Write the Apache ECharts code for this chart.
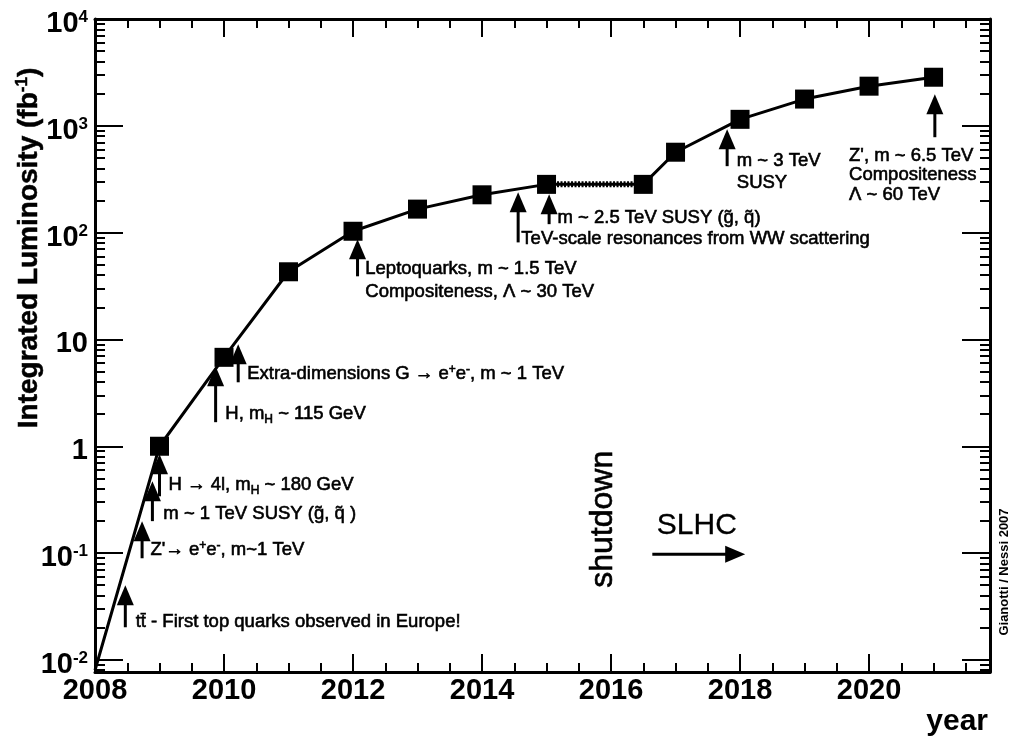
<!DOCTYPE html>
<html><head><meta charset="utf-8">
<script src="https://cdn.jsdelivr.net/npm/echarts@6/dist/echarts.min.js"></script>
<style>html,body{margin:0;padding:0;background:#fff}#c{width:1012px;height:736px}</style>
</head><body><div id="c"></div>
<script>
// ---- data ----
const years = [2008, 2009, 2010, 2011, 2012, 2013, 2014, 2015, 2016.5, 2017, 2018, 2019, 2020, 2021];
const lumi  = [0.008, 1, 6.8, 43, 103, 166, 226, 283, 283, 566, 1150, 1780, 2350, 2850];
const shutdownIdx = [7, 8]; // the flat segment during the shutdown
const xTickLabels = [2008, 2010, 2012, 2014, 2016, 2018, 2020];
const yTickLabels = [0.01, 0.1, 1, 10, 100, 1000, 10000];

// arrows: tail -> tip in data coordinates
const arrowFrom = [[2008.47,0.0202],[2008.73,0.0894],[2008.89,0.199],[2009.0,0.34],[2009.87,1.68],[2010.22,3.97],[2012.07,39],[2014.56,81],[2015.04,120],[2017.80,419],[2021.02,782],[2016.64,0.0975]];
const arrowTo   = [[2008.47,0.050],[2008.73,0.199],[2008.89,0.47],[2009.0,0.84],[2009.87,5.61],[2010.22,9.0],[2012.07,86.7],[2014.56,239],[2015.04,229],[2017.80,929],[2021.02,1977],[2018.08,0.0975]];

// annotation texts (anchor in data coordinates)
const annotations = [
  {x:2008.63, y:0.0225, text:'t{n|t\u0304} - First top quarks observed in Europe!'},
  {x:2008.86, y:0.106, text:"Z'\u2192 e{sup|+}e{sup|-}, m~1 TeV"},
  {x:2009.06, y:0.231, text:'m ~ 1 TeV SUSY (g\u0303, q\u0303 )'},
  {x:2009.14, y:0.431, text:'H \u2192 4l, m{sub|H} ~ 180 GeV'},
  {x:2010.02, y:1.99, text:'H, m{sub|H} ~ 115 GeV'},
  {x:2010.36, y:4.72, text:'Extra-dimensions G \u2192 e{sup|+}e{sup|-}, m ~ 1 TeV'},
  {x:2012.19, y:45.4, text:'Leptoquarks, m ~ 1.5 TeV'},
  {x:2012.19, y:27.7, text:'Compositeness, \u039b ~ 30 TeV'},
  {x:2014.61, y:86.7, text:'TeV-scale resonances from WW scattering'},
  {x:2015.17, y:136, text:'m ~ 2.5 TeV SUSY (g\u0303, q\u0303)'},
  {x:2017.95, y:466, text:'m ~ 3 TeV'},
  {x:2017.95, y:290, text:'SUSY'},
  {x:2019.69, y:519, text:"Z', m ~ 6.5 TeV"},
  {x:2019.69, y:345, text:'Compositeness'},
  {x:2019.69, y:224, text:'\u039b ~ 60 TeV'},
  {x:2015.88, y:0.207, text:'shutdown', size:32, rotate:true, align:'center'},
  {x:2017.33, y:0.182, text:'SLHC', size:30, align:'center', stroke:0.3}
];

// ---- layout ----
const FONT = "'Liberation Sans', Arial, Helvetica, sans-serif";
const X_MIN = 2008, X_MAX = 2021.875, Y_MIN = 0.0077, Y_MAX = 10000;
const G = {left:95, right:22, top:19, bottom:64};

const xMinor = [];
for (let v = 2008.5; v < X_MAX; v += 0.5) { if (v % 2 !== 0) xMinor.push(v); }
const yMinor = [];
for (let e = -3; e <= 3; e++) for (let k = 2; k <= 9; k++) {
  const v = parseFloat((k * Math.pow(10, e)).toPrecision(6));
  if (v > Y_MIN && v < Y_MAX) yMinor.push(v);
}

const lineSt = {color:'#000', width:3};
function xAx(grid, pos, major) {
  return {gridIndex:grid, type:'value', position:pos, min:X_MIN, max:X_MAX,
    axisLine:{show:major, onZero:false, lineStyle:lineSt},
    axisTick:{show:true, inside:true, length: major?18:9, customValues: major?xTickLabels:xMinor, lineStyle:{color:'#000', width:2}},
    axisLabel: (major && pos==='bottom') ? {show:true, customValues:xTickLabels, formatter:(v)=>String(Math.round(v)), color:'#000', fontSize:29, fontWeight:'bold', fontFamily:FONT, margin:4} : {show:false},
    splitLine:{show:false}};
}
function yLabelFmt(v) {
  const e = Math.round(Math.log10(v));
  if (e === 0) return '{b|1}';
  if (e === 1) return '{b|10}';
  return '{b|10}{s|' + e + '}';
}
function yAx(grid, pos, major) {
  return {gridIndex:grid, type:'log', logBase:10, position:pos, min:Y_MIN, max:Y_MAX,
    axisLine:{show:major, onZero:false, lineStyle:lineSt},
    axisTick:{show:true, inside:true, length: major?28:10, customValues: major?yTickLabels:yMinor, lineStyle:{color:'#000', width:2}},
    axisLabel: (major && pos==='left') ? {show:true, customValues:yTickLabels, formatter:yLabelFmt, margin:7, padding:[10,0,0,0],
      rich:{b:{fontSize:29, fontWeight:'bold', fontFamily:FONT, color:'#000', lineHeight:30},
            s:{fontSize:17, fontWeight:'bold', fontFamily:FONT, color:'#000', lineHeight:17, verticalAlign:'top'}}} : {show:false},
    splitLine:{show:false}, minorTick:{show:false}, minorSplitLine:{show:false}};
}

const richAnno = {
  sup:{fontSize:12, fontFamily:FONT, verticalAlign:'top', lineHeight:12},
  sub:{fontSize:12, fontFamily:FONT, verticalAlign:'bottom', lineHeight:12},
  n:{fontSize:18.5, fontFamily:FONT}
};

const option = {
  animation:false,
  backgroundColor:'#fff',
  grid:[Object.assign({}, G), Object.assign({}, G)],
  xAxis:[xAx(0,'bottom',true), xAx(0,'top',true), xAx(1,'bottom',false), xAx(1,'top',false)],
  yAxis:[yAx(0,'left',true), yAx(0,'right',true), yAx(1,'left',false), yAx(1,'right',false)],
  series:[
    {type:'line', xAxisIndex:0, yAxisIndex:0, z:3,
     data: years.map((yr,i) => i===0 ? {value:[yr, lumi[i]], symbol:'none'} : [yr, lumi[i]]),
     symbol:'rect', symbolSize:19, showSymbol:true,
     lineStyle:{color:'#000', width:3}, itemStyle:{color:'#000'}},
    {type:'line', xAxisIndex:0, yAxisIndex:0, z:2, symbol:'none',
     data: shutdownIdx.map(i => [years[i], lumi[i]]),
     lineStyle:{color:'#000', width:6, type:[2,1.5]}},
    {type:'custom', xAxisIndex:0, yAxisIndex:0, z:4,
     data: arrowFrom.map((f,i) => [f[0], f[1], arrowTo[i][0], arrowTo[i][1]]),
     encode:{x:[0,2], y:[1,3]},
     renderItem:function(params, api){
       const a = api.coord([api.value(0), api.value(1)]);
       const b = api.coord([api.value(2), api.value(3)]);
       const dx = b[0]-a[0], dy = b[1]-a[1], L = Math.hypot(dx,dy) || 1;
       const ux = dx/L, uy = dy/L, hl = 20, hw = 8.5;
       const bx = b[0]-ux*hl, by = b[1]-uy*hl, px = -uy, py = ux;
       return {type:'group', children:[
         {type:'line', shape:{x1:a[0], y1:a[1], x2:bx+ux*2, y2:by+uy*2}, style:{stroke:'#000', lineWidth:3}},
         {type:'polygon', shape:{points:[[b[0],b[1]],[bx+px*hw,by+py*hw],[bx-px*hw,by-py*hw]]}, style:{fill:'#000'}}
       ]};
     }},
    {type:'custom', xAxisIndex:0, yAxisIndex:0, z:5,
     data: annotations.map(a => [a.x, a.y]),
     renderItem:function(params, api){
       const an = annotations[params.dataIndex];
       const p = api.coord([api.value(0), api.value(1)]);
       return {type:'text', x:p[0], y:p[1], rotation: an.rotate ? Math.PI/2 : 0,
         style:{text:an.text, fill:'#000', stroke:'#000', lineWidth: an.stroke != null ? an.stroke : 0.6,
           fontSize: an.size || 18.5, fontFamily:FONT, align: an.align || 'left', verticalAlign:'middle',
           lineHeight:22, rich:richAnno}};
     }}
  ],
  graphic:[
    {type:'text', x:29, y:248, rotation:Math.PI/2,
     style:{text:'Integrated Luminosity (fb{s|-1})', fill:'#000', stroke:'#000', lineWidth:0.5, fontSize:28, fontWeight:'bold', fontFamily:FONT,
       align:'center', verticalAlign:'middle', lineHeight:30,
       rich:{s:{fontSize:17, fontWeight:'bold', fontFamily:FONT, verticalAlign:'top', lineHeight:17}}}},
    {type:'text', x:988, y:722, style:{text:'year', fill:'#000', fontSize:30, fontWeight:'bold', fontFamily:FONT, align:'right', verticalAlign:'middle'}},
    {type:'text', x:1004, y:572, rotation:Math.PI/2, style:{text:'Gianotti / Nessi 2007', fill:'#000', fontSize:13, fontWeight:'bold', fontFamily:FONT, align:'center', verticalAlign:'middle'}}
  ]
};
const chart = echarts.init(document.getElementById('c'));
chart.setOption(option);
</script></body></html>
